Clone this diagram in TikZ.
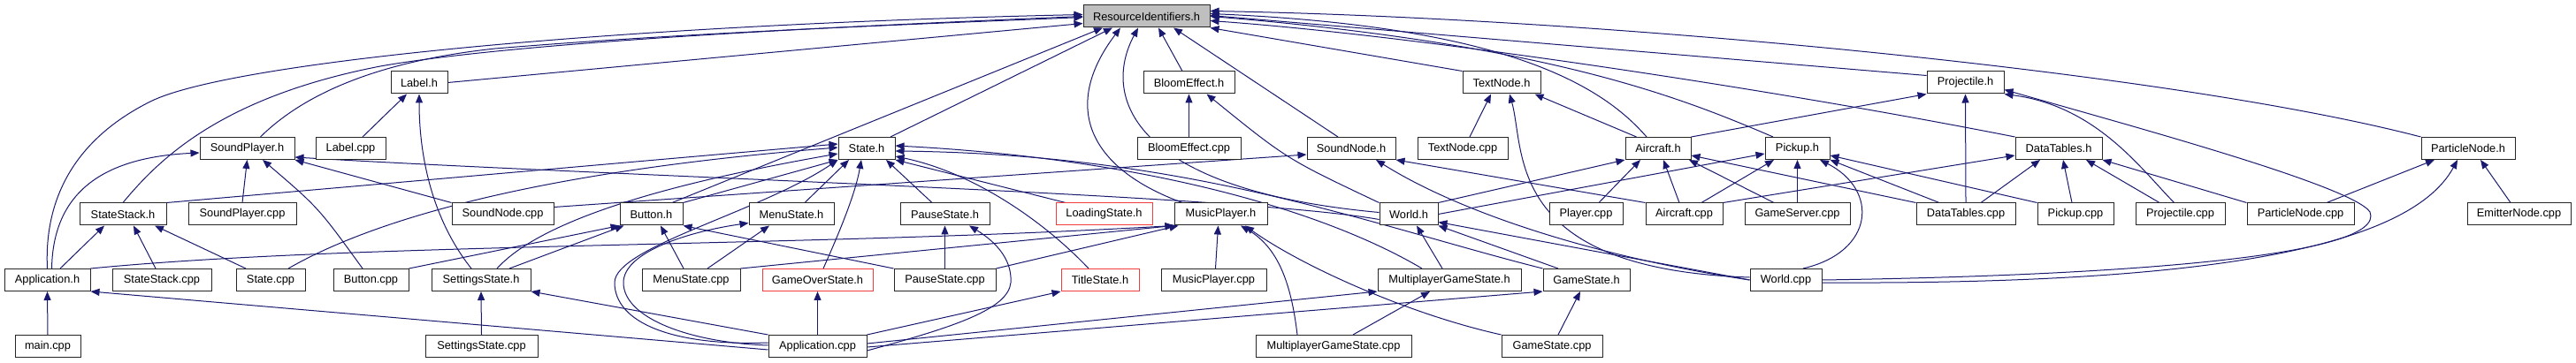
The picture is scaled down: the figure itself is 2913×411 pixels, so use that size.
\documentclass[tikz,border=0pt]{standalone}
\usepackage{fontspec}
\setmainfont{Liberation Sans}
\usetikzlibrary{arrows.meta}
\definecolor{edgec}{RGB}{25,25,112}
\definecolor{redb}{RGB}{240,60,60}
\definecolor{rifill}{RGB}{191,191,191}
\pgfdeclarelayer{bg}
\pgfdeclarelayer{bgpaper}
\pgfsetlayers{bgpaper,bg,main}
\begin{document}
\begin{tikzpicture}[x=1pt,y=-1pt,
  box/.style={draw=black!85, line width=1pt, fill=white, minimum height=25pt, inner sep=0pt, font=\fontsize{12.8pt}{14pt}\selectfont},
  redbox/.style={box, draw=redb},
  dep/.style={draw=edgec, line width=1pt, -{Triangle[length=10pt,width=8pt]}}]
\begin{pgfonlayer}{bgpaper}
\fill[white] (0,0) rectangle (2913,411);
\end{pgfonlayer}
\useasboundingbox (0,0) rectangle (2913,411);
% row 0
\node[box, fill=rifill, minimum width=143pt] (ri) at (1296.5,18.5) {ResourceIdentifiers.h};
% row 1
\node[box, minimum width=64pt] (lh) at (474,93.5) {Label.h};
\node[box, minimum width=103pt] (beh) at (1344.5,93.5) {BloomEffect.h};
\node[box, minimum width=88pt] (tnh) at (1698,93.5) {TextNode.h};
\node[box, minimum width=87pt] (pjh) at (2222.5,93.5) {Projectile.h};
% row 2
\node[box, minimum width=107pt] (sph) at (279.5,168) {SoundPlayer.h};
\node[box, minimum width=79pt] (lcpp) at (396.5,168) {Label.cpp};
\node[box, minimum width=64pt] (sth) at (980,168) {State.h};
\node[box, minimum width=117pt] (becpp) at (1344.5,168) {BloomEffect.cpp};
\node[box, minimum width=100pt] (snh) at (1528,168) {SoundNode.h};
\node[box, minimum width=102pt] (tncpp) at (1654,168) {TextNode.cpp};
\node[box, minimum width=74pt] (ah) at (1875,168) {Aircraft.h};
\node[box, minimum width=73pt] (pkh) at (2032.5,168) {Pickup.h};
\node[box, minimum width=98pt] (dth) at (2328,168) {DataTables.h};
\node[box, minimum width=106pt] (pnh) at (2791,168) {ParticleNode.h};
% row 3
\node[box, minimum width=98pt] (ssh) at (139,242.5) {StateStack.h};
\node[box, minimum width=122pt] (spcpp) at (274,242.5) {SoundPlayer.cpp};
\node[box, minimum width=115pt] (sncpp) at (568.5,242.5) {SoundNode.cpp};
\node[box, minimum width=71pt] (bh) at (736.5,242.5) {Button.h};
\node[box, minimum width=96pt] (msh) at (895,242.5) {MenuState.h};
\node[box, minimum width=101pt] (psh) at (1068.5,242.5) {PauseState.h};
\node[redbox, minimum width=109pt] (ldh) at (1248.5,242.5) {LoadingState.h};
\node[box, minimum width=105pt] (mph) at (1380.5,242.5) {MusicPlayer.h};
\node[box, minimum width=66pt] (wh) at (1593,242.5) {World.h};
\node[box, minimum width=83pt] (plcpp) at (1793.5,242.5) {Player.cpp};
\node[box, minimum width=87pt] (acpp) at (1904.5,242.5) {Aircraft.cpp};
\node[box, minimum width=119pt] (gsvcpp) at (2032.5,242.5) {GameServer.cpp};
\node[box, minimum width=112pt] (dtcpp) at (2223,242.5) {DataTables.cpp};
\node[box, minimum width=86pt] (pkcpp) at (2347,242.5) {Pickup.cpp};
\node[box, minimum width=101pt] (pjcpp) at (2465.5,242.5) {Projectile.cpp};
\node[box, minimum width=121pt] (ptcpp) at (2601.5,242.5) {ParticleNode.cpp};
\node[box, minimum width=117pt] (emcpp) at (2848.5,242.5) {EmitterNode.cpp};
% row 4
\node[box, minimum width=97pt] (apph) at (53.5,317) {Application.h};
\node[box, minimum width=112pt] (sscpp) at (183,317) {StateStack.cpp};
\node[box, minimum width=78pt] (stcpp) at (306,317) {State.cpp};
\node[box, minimum width=85pt] (bcpp) at (419.5,317) {Button.cpp};
\node[box, minimum width=112pt] (ssth) at (544,317) {SettingsState.h};
\node[box, minimum width=111pt] (mscpp) at (781.5,317) {MenuState.cpp};
\node[redbox, minimum width=125pt] (goh) at (924.5,317) {GameOverState.h};
\node[box, minimum width=115pt] (pscpp) at (1068.5,317) {PauseState.cpp};
\node[redbox, minimum width=88pt] (tsh) at (1244,317) {TitleState.h};
\node[box, minimum width=119pt] (mpcpp) at (1372.5,317) {MusicPlayer.cpp};
\node[box, minimum width=162pt] (mgsh) at (1639,317) {MultiplayerGameState.h};
\node[box, minimum width=98pt] (gsh) at (1794,317) {GameState.h};
\node[box, minimum width=81pt] (wcpp) at (2019.5,317) {World.cpp};
% row 5
\node[box, minimum width=74pt] (mcpp) at (54,392) {main.cpp};
\node[box, minimum width=127pt] (sstcpp) at (544.5,392) {SettingsState.cpp};
\node[box, minimum width=111pt] (appc) at (924.5,392) {Application.cpp};
\node[box, minimum width=176pt] (mgscpp) at (1508,392) {MultiplayerGameState.cpp};
\node[box, minimum width=114pt] (gscpp) at (1755,392) {GameState.cpp};

\begin{pgfonlayer}{bg}
% into ResourceIdentifiers.h
\draw[dep] (apph.north) .. controls (50,230) and (80,160) .. (170,115) .. controls (260,70) and (700,28) .. ([yshift=2pt]ri.west);
\draw[dep] (ssh.north) .. controls (180,180) and (250,110) .. (430,75) .. controls (600,45) and (1000,28) .. (ri.west);
\draw[dep] ([xshift=15pt]sph.north) .. controls (340,110) and (420,70) .. (560,55) .. controls (800,35) and (1100,25) .. ([yshift=-1pt]ri.west);
\draw[dep] (lh.east) -- ([yshift=-8pt]ri.west);
\draw[dep] ([xshift=23.5pt]bh.north) -- ([xshift=-49.5pt]ri.south);
\draw[dep] ([xshift=27pt]sth.north) -- ([xshift=-38.5pt]ri.south);
\draw[dep] ([xshift=-43.5pt]mph.north) .. controls (1230,190) and (1200,120) .. ([xshift=-29.5pt]ri.south);
\draw[dep] ([yshift=2pt]wh.west) .. controls (1280,215) and (1245,110) .. ([xshift=-9.5pt]ri.south);
\draw[dep] ([xshift=-7.5pt]beh.north) -- ([xshift=13.5pt]ri.south);
\draw[dep] ([xshift=-15pt]snh.north) -- ([xshift=30.5pt]ri.south);
\draw[dep] (tnh.north west) -- (ri.south east);
\draw[dep] ([xshift=-13pt]ah.north) .. controls (1810,95) and (1700,30) .. ([yshift=3pt]ri.east);
\draw[dep] ([xshift=-27.5pt]pkh.north) .. controls (1900,110) and (1750,50) .. (ri.east);
\draw[dep] ([yshift=8pt]pjh.west) -- ([yshift=1pt]ri.east);
\draw[dep] (dth.north west) .. controls (2000,100) and (1600,40) .. ([yshift=-5pt]ri.east);
\draw[dep] (pnh.north west) .. controls (2450,80) and (1800,20) .. ([yshift=6pt]ri.east);
% Label.h
\draw[dep] ([xshift=13.5pt]lcpp.north) -- ([xshift=-14pt]lh.south);
\draw[dep] ([xshift=-11pt]ssth.north) .. controls (490,250) and (474,180) .. (lh.south);
% SoundPlayer.h
\draw[dep] ([xshift=5pt]apph.north) .. controls (60,215) and (120,178) .. ([yshift=-5pt]sph.west);
\draw[dep] (spcpp.north) -- (sph.south);
\draw[dep] ([xshift=-9.5pt]bcpp.north) .. controls (360,235) .. ([xshift=17.5pt]sph.south);
\draw[dep] (sncpp.north west) -- (sph.south east);
\draw[dep] ([yshift=-6pt]wh.west) .. controls (1400,220) and (700,200) .. ([yshift=-10pt]sph.east);
% StateStack.h
\draw[dep] ([xshift=14.5pt]apph.north) -- ([xshift=-21pt]ssh.south);
\draw[dep] ([xshift=-7pt]sscpp.north) -- ([xshift=12pt]ssh.south);
\draw[dep] ([xshift=-28pt]stcpp.north) -- ([xshift=36pt]ssh.south);
% State.h
\draw[dep] (ssh.north east) -- ([yshift=5pt]sth.west);
\draw[dep] ([xshift=20pt]stcpp.north) .. controls (420,250) and (600,195) .. ([yshift=1pt]sth.west);
\draw[dep] (bh.north east) -- (sth.south west);
\draw[dep] ([xshift=18pt]ssth.north) .. controls (620,240) and (800,200) .. ([yshift=-6pt]sth.west);
\draw[dep] ([xshift=15pt]msh.north) -- ([xshift=-20pt]sth.south);
\draw[dep] ([xshift=-14.5pt]psh.north) -- ([xshift=22pt]sth.south);
\draw[dep] ([xshift=-43.5pt]ldh.north) -- (sth.south east);
\draw[dep] ([xshift=-13pt]tsh.north) .. controls (1180,250) and (1100,195) .. ([yshift=-9pt]sth.east);
\draw[dep] ([xshift=6.5pt]goh.north) .. controls (955,250) and (968,215) .. ([xshift=-6pt]sth.south);
\draw[dep] ([xshift=-31pt]mgsh.north) .. controls (1500,240) and (1300,180) .. ([yshift=3pt]sth.east);
\draw[dep] (gsh.north west) .. controls (1550,255) and (1350,175) .. ([yshift=-3pt]sth.east);
\draw[dep] ([yshift=4pt]appc.west) .. controls (760,392) and (695,365) .. (695,320) .. controls (695,280) and (860,240) .. (sth.south west);
% BloomEffect.h
\draw[dep] (becpp.north) -- (beh.south);
\draw[dep] (wh.north west) .. controls (1455,180) .. ([xshift=20pt]beh.south);
% SoundNode.h
\draw[dep] ([yshift=8pt]sncpp.east) -- ([yshift=-7pt]snh.west);
\draw[dep] (wcpp.west) .. controls (1800,290) and (1650,240) .. ([xshift=28pt]snh.south);
\draw[dep] (acpp.north west) -- (snh.south east);
% TextNode.h
\draw[dep] ([xshift=8pt]tncpp.north) -- ([xshift=-12pt]tnh.south);
\draw[dep] ([xshift=13pt]ah.north west) -- ([xshift=-7pt]tnh.south east);
\draw[dep] ([yshift=3pt]wcpp.west) .. controls (1700,305) and (1725,170) .. ([xshift=9pt]tnh.south);
% Projectile.h
\draw[dep] (ah.north east) -- (pjh.south west);
\draw[dep] (dtcpp.north) -- (pjh.south);
\draw[dep] ([xshift=-7pt]pjcpp.north) .. controls (2420,190) and (2370,120) .. (pjh.south east);
\draw[dep] (wcpp.east) .. controls (2400,312) and (2700,290) .. (2680,240) .. controls (2660,210) and (2400,140) .. ([yshift=-8pt]pjh.east);
% Aircraft.h
\draw[dep] (wh.north east) -- (ah.south west);
\draw[dep] ([xshift=14.5pt]plcpp.north) -- ([xshift=-20pt]ah.south);
\draw[dep] ([xshift=-5.5pt]acpp.north) -- ([xshift=6pt]ah.south);
\draw[dep] ([xshift=-26.5pt]gsvcpp.north) -- ([xshift=35pt]ah.south);
\draw[dep] (dtcpp.north west) -- ([yshift=-8pt]ah.east);
% Pickup.h
\draw[dep] (wh.east) -- ([yshift=-6pt]pkh.west);
\draw[dep] ([xshift=19.5pt]acpp.north) -- ([xshift=-26.5pt]pkh.south);
\draw[dep] (gsvcpp.north) -- (pkh.south);
\draw[dep] ([xshift=19.5pt]wcpp.north) .. controls (2120,285) and (2125,215) .. ([xshift=25.5pt]pkh.south);
\draw[dep] ([xshift=-30pt]dtcpp.north) -- (pkh.south east);
\draw[dep] (pkcpp.north west) -- ([yshift=-8pt]pkh.east);
% DataTables.h
\draw[dep] (acpp.north east) -- ([yshift=-8pt]dth.west);
\draw[dep] ([xshift=17pt]dtcpp.north) -- ([xshift=-21pt]dth.south);
\draw[dep] ([xshift=-4pt]pkcpp.north) -- ([xshift=5pt]dth.south);
\draw[dep] ([xshift=-23.5pt]pjcpp.north) -- ([xshift=31pt]dth.south);
\draw[dep] (ptcpp.north west) -- (dth.south east);
% ParticleNode.h
\draw[dep] ([xshift=29.5pt]ptcpp.north) -- ([xshift=-38pt]pnh.south);
\draw[dep] ([xshift=-9.5pt]emcpp.north) -- ([xshift=14pt]pnh.south);
\draw[dep] ([yshift=-3pt]wcpp.east) .. controls (2450,322) and (2720,290) .. ([xshift=-12pt]pnh.south);
% Button.h
\draw[dep] (bcpp.north east) -- (bh.south west);
\draw[dep] ([xshift=32pt]ssth.north) -- ([xshift=5pt]bh.south west);
\draw[dep] ([xshift=-8.5pt]mscpp.north) -- ([xshift=10.5pt]bh.south);
\draw[dep] (pscpp.north west) -- (bh.south east);
% MenuState.h
\draw[dep] ([yshift=1pt]appc.west) .. controls (780,388) and (705,360) .. (705,320) .. controls (705,285) and (780,262) .. ([yshift=-10pt]msh.west);
\draw[dep] ([xshift=18.5pt]mscpp.north) -- ([xshift=-25pt]msh.south);
% PauseState.h
\draw[dep] (pscpp.north) -- (psh.south);
\draw[dep] ([yshift=-5pt]appc.east) .. controls (1080,370) and (1140,350) .. (1143,320) .. controls (1145,290) and (1120,270) .. ([xshift=27.5pt]psh.south);
% MusicPlayer.h
\draw[dep] (apph.north east) .. controls (400,275) and (900,280) .. (mph.south west);
\draw[dep] (mscpp.north east) -- (mph.south west);
\draw[dep] (pscpp.north east) -- ([xshift=5pt]mph.south west);
\draw[dep] ([xshift=2pt]mpcpp.north) -- ([xshift=-3pt]mph.south);
\draw[dep] ([xshift=-41pt]mgscpp.north) .. controls (1460,320) and (1445,280) .. ([xshift=22.5pt]mph.south);
\draw[dep] (gscpp.north west) .. controls (1590,355) and (1470,300) .. ([xshift=27.5pt]mph.south);
% World.h
\draw[dep] ([xshift=-8pt]mgsh.north) -- ([xshift=9pt]wh.south);
\draw[dep] ([xshift=-32pt]gsh.north) -- (wh.south east);
\draw[dep] (wcpp.west) -- ([yshift=4pt]wh.south east);
% Application.h
\draw[dep] (mcpp.north) -- (apph.south);
\draw[dep] ([yshift=-4pt]appc.west) -- (apph.south east);
% SettingsState.h
\draw[dep] (sstcpp.north) -- (ssth.south);
\draw[dep] (appc.north west) -- (ssth.south east);
% other Application.cpp includes
\draw[dep] (appc.north) -- (goh.south);
\draw[dep] (appc.north east) -- (tsh.south west);
\draw[dep] ([yshift=3pt]appc.east) -- (mgsh.south west);
\draw[dep] ([yshift=-1pt]appc.east) -- (gsh.south west);
% MultiplayerGameState / GameState
\draw[dep] ([xshift=22pt]mgscpp.north) -- ([xshift=-22pt]mgsh.south);
\draw[dep] ([xshift=7pt]gscpp.north) -- ([xshift=-7pt]gsh.south);
\end{pgfonlayer}
\end{tikzpicture}
\end{document}
